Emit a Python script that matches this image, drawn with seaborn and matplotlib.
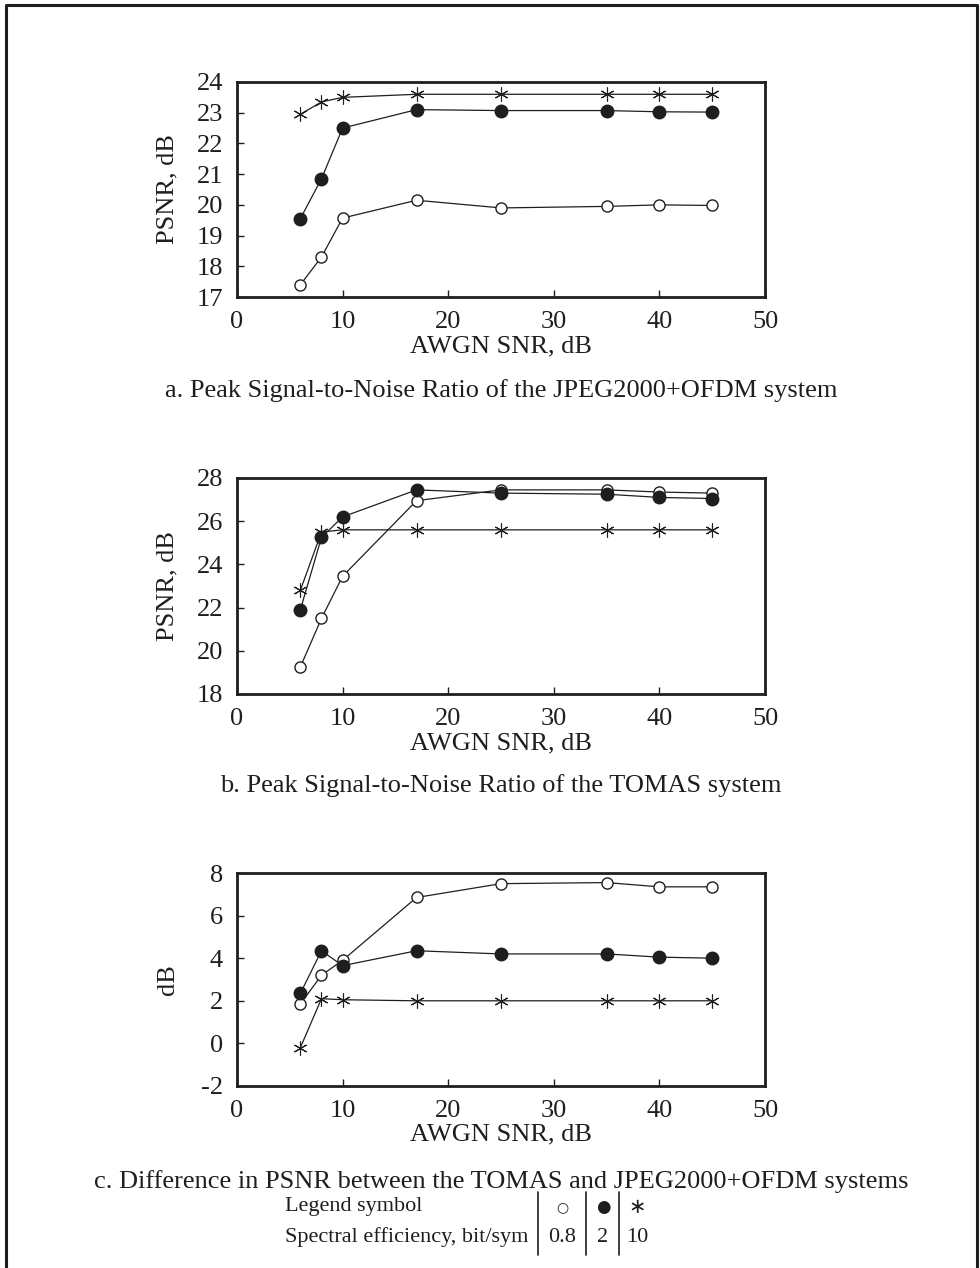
import matplotlib
matplotlib.use("Agg")
import matplotlib.pyplot as plt
from matplotlib.lines import Line2D
import numpy as np
import pandas as pd
import seaborn as sns

# AWGN SNR points (dB)
snr = [6, 8, 10, 17, 25, 35, 40, 45]

# a. JPEG2000+OFDM PSNR (dB)
a_open = [17.4, 18.3, 19.57, 20.15, 19.9, 19.95, 20.0, 19.98]
a_fill = [19.55, 20.85, 22.5, 23.1, 23.07, 23.07, 23.03, 23.02]
a_star = [22.95, 23.35, 23.5, 23.6, 23.6, 23.6, 23.6, 23.6]

# b. TOMAS PSNR (dB)
b_open = [19.25, 21.5, 23.45, 26.95, 27.45, 27.45, 27.35, 27.3]
b_fill = [21.9, 25.25, 26.2, 27.45, 27.3, 27.25, 27.1, 27.05]
b_star = [22.8, 25.5, 25.6, 25.6, 25.6, 25.6, 25.6, 25.6]

# c. PSNR difference TOMAS - JPEG2000+OFDM (dB)
c_open = [1.85, 3.2, 3.9, 6.85, 7.5, 7.55, 7.35, 7.35]
c_fill = [2.35, 4.35, 3.65, 4.35, 4.2, 4.2, 4.05, 4.0]
c_star = [-0.2, 2.1, 2.05, 2.0, 2.0, 2.0, 2.0, 2.0]

x_ticks = [0, 10, 20, 30, 40, 50]
a_yticks = [17, 18, 19, 20, 21, 22, 23, 24]
b_yticks = [18, 20, 22, 24, 26, 28]
c_yticks = [-2, 0, 2, 4, 6, 8]

captions = [
    "a. Peak Signal-to-Noise Ratio of the JPEG2000+OFDM system",
    "b. Peak Signal-to-Noise Ratio of the TOMAS system",
    "c. Difference in PSNR between the TOMAS and JPEG2000+OFDM systems",
]
ylabels = ["PSNR, dB", "PSNR, dB", "dB"]
legend_symbols = ["\u25cb", "\u25cf", "\u2217"]
legend_values = ["0.8", "2", "10"]

sns.set_style("ticks")
plt.rcParams["font.family"] = ["Liberation Serif", "DejaVu Sans"]
plt.rcParams["axes.unicode_minus"] = False

INK = "#1e1e1e"
FS = 19
W, H = 980, 1268
fig = plt.figure(figsize=(W / 100, H / 100), dpi=100)


def frac_rect(left, top, right, bottom):
    return [left / W, 1 - bottom / H, (right - left) / W, (bottom - top) / H]


panels = [
    (frac_rect(237, 82, 765, 297), (a_open, a_fill, a_star), a_yticks, 391),
    (frac_rect(237, 478, 765, 694), (b_open, b_fill, b_star), b_yticks, 786),
    (frac_rect(237, 873, 765, 1086), (c_open, c_fill, c_star), c_yticks, 1182),
]

styles = [
    dict(marker="o", markersize=8, markerfacecolor="white", markeredgecolor=INK,
         markeredgewidth=1.0),
    dict(marker="o", markersize=9, markerfacecolor=INK, markeredgecolor=INK,
         markeredgewidth=1.0),
    dict(marker=(6, 2, 0), markersize=10, markeredgecolor=INK, markeredgewidth=0.8),
]

for i, (rect, series, yt, cap_y) in enumerate(panels):
    ax = fig.add_axes(rect)
    for vals, st in zip(series, styles):
        df = pd.DataFrame({"snr": snr, "val": vals})
        sns.lineplot(data=df, x="snr", y="val", ax=ax, color=INK, lw=0.9,
                     legend=False, **st)
    ax.set_xlim(0, 50)
    ax.set_ylim(yt[0], yt[-1])
    ax.set_xticks(x_ticks)
    ax.set_yticks(yt)
    ax.tick_params(direction="in", length=5, width=1, color=INK,
                   labelsize=FS, pad=10, labelcolor=INK)
    for s in ax.spines.values():
        s.set_linewidth(2.0)
        s.set_color(INK)
        s.set_visible(True)
    ax.set_xlabel("AWGN SNR, dB", fontsize=FS, color=INK)
    ax.set_ylabel(ylabels[i], fontsize=FS, color=INK)
    ax.xaxis.set_label_coords(0.5, -0.178)
    ax.yaxis.set_label_coords(-0.11, 0.5)
    fig.text(501 / W, 1 - cap_y / H, captions[i], ha="center", va="center",
             fontsize=FS, color=INK)

# symbol table under the last panel
LFS = 16
row1, row2 = 1207, 1237
fig.text(285 / W, 1 - row1 / H, "Legend symbol", ha="left", va="center",
         fontsize=LFS, color=INK)
fig.text(285 / W, 1 - row2 / H, "Spectral efficiency, bit/sym", ha="left",
         va="center", fontsize=LFS, color=INK)
col_x = [562, 603, 637]
sym_sizes = [10, 12, 15]
for cx, sym, val, ss in zip(col_x, legend_symbols, legend_values, sym_sizes):
    fig.text(cx / W, 1 - row1 / H, sym, ha="center", va="center",
             fontsize=ss, color=INK, family=["DejaVu Sans"])
    fig.text(cx / W, 1 - row2 / H, val, ha="center", va="center",
             fontsize=LFS, color=INK)
for bx in [538, 586, 619]:
    fig.add_artist(Line2D([bx / W, bx / W], [1 - 1192 / H, 1 - 1255 / H],
                          color=INK, lw=1.2))

# page frame
fig.add_artist(Line2D([5.5 / W, 5.5 / W, 976.5 / W, 976.5 / W],
                      [0, 1 - 4.5 / H, 1 - 4.5 / H, 0], color=INK, lw=2.2))

fig.savefig("out.png", dpi=100)
